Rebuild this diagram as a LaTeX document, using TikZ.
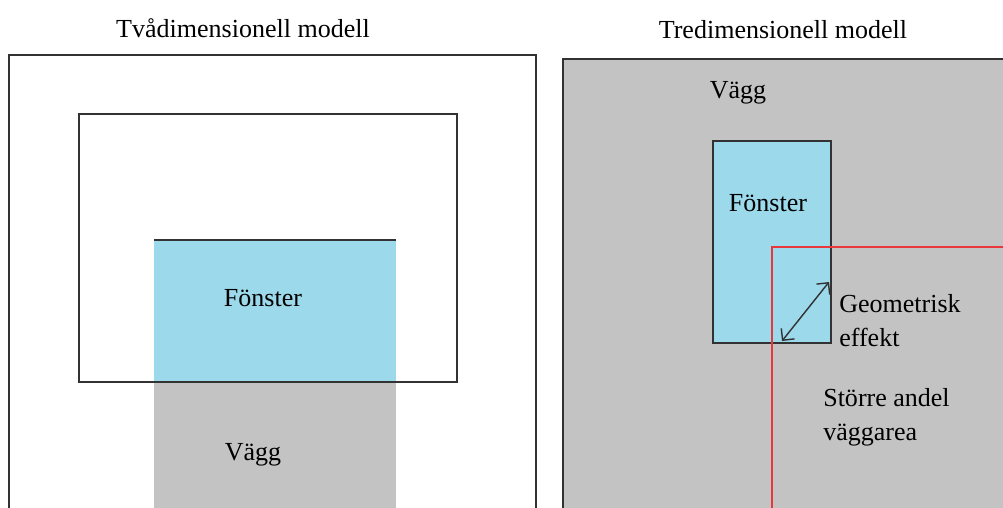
\documentclass[tikz,border=0pt]{standalone}
\usepackage{fontspec}
\setmainfont{Liberation Serif}
\usetikzlibrary{arrows.meta}

\definecolor{glas}{RGB}{155,217,235}
\definecolor{vagg}{RGB}{195,195,195}
\definecolor{kant}{RGB}{50,50,50}
\definecolor{rod}{RGB}{232,56,62}

\tikzset{
	label/.style={font=\fontsize{18.5}{24.5}\selectfont, inner sep=0pt},
	ram/.style={draw=kant, line width=1.4pt},
}

\begin{document}
\begin{tikzpicture}[x=0.025cm, y=-0.025cm]
	\useasboundingbox (0,0) rectangle (1003,507);
	\clip (0,0) rectangle (1003,507);
	% tvadimensionell modell
	\node[label] (titel2d) at (243,28) {Tvådimensionell modell};
	\draw[ram] (9,55) rectangle (536,530);
	\fill[glas] (154,240) rectangle (396,382);
	\fill[vagg] (154,382) rectangle (396,530);
	\draw[ram] (79,114) rectangle (457,382);
	\draw[ram] (154,240) -- (396,240);
	\node[label] (fonster2d) at (263,298) {Fönster};
	\node[label] (vagg2d) at (253,455) {Vägg};
	% tredimensionell modell
	\node[label] (titel3d) at (783,30) {Tredimensionell modell};
	\draw[ram, fill=vagg] (563,59) rectangle (1020,530);
	\draw[ram, fill=glas] (713,141) rectangle (831,343);
	\draw[rod, line width=1.2pt] (772,530) -- (772,247) -- (1020,247);
	\node[label] (vagg3d) at (738,93) {Vägg};
	\node[label] (fonster3d) at (768,203) {Fönster};
	\coordinate (pila) at (782,341);
	\coordinate (pilb) at (829,282);
	\draw[kant, line width=1pt, {Straight Barb[length=6pt,width=12pt]}-{Straight Barb[length=6pt,width=12pt]}] (pila) -- (pilb);
	\node[label, align=left, anchor=north west] (geom) at (839,294) {Geometrisk\\effekt};
	\node[label, align=left, anchor=north west] (andel) at (823,388) {Större andel\\väggarea};
\end{tikzpicture}
\end{document}
